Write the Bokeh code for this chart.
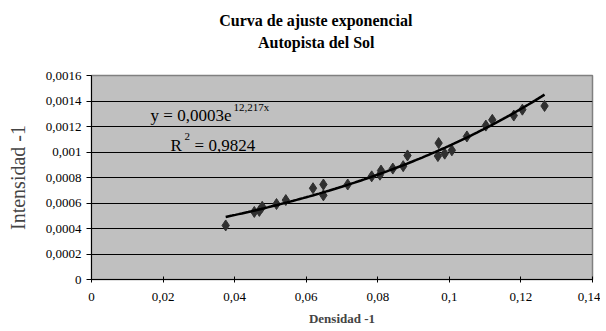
import numpy as np
from bokeh.plotting import figure
from bokeh.models import Label, Title, FixedTicker, Range1d
from bokeh.embed import file_html
from bokeh.resources import INLINE

# Data
densidad = [0.0375, 0.0455, 0.0469, 0.0477, 0.0517, 0.0543, 0.0619, 0.0648, 0.0648,
            0.0716, 0.0783, 0.0806, 0.0809, 0.0842, 0.0871, 0.0883, 0.0970, 0.0968,
            0.0987, 0.1007, 0.1049, 0.1102, 0.1120, 0.1180, 0.1204, 0.1266]
intensidad = [0.000424, 0.000530, 0.000538, 0.000570, 0.000592, 0.000623, 0.000716, 0.000745, 0.000660,
              0.000745, 0.000809, 0.000822, 0.000854, 0.000870, 0.000889, 0.000973, 0.001070, 0.000968,
              0.000987, 0.001013, 0.001122, 0.001207, 0.001252, 0.001286, 0.001332, 0.001361]

x_ticks = [0, 0.02, 0.04, 0.06, 0.08, 0.10, 0.12, 0.14]
x_tick_labels = ["0", "0,02", "0,04", "0,06", "0,08", "0,1", "0,12", "0,14"]
y_ticks = [0, 0.0002, 0.0004, 0.0006, 0.0008, 0.0010, 0.0012, 0.0014, 0.0016]
y_tick_labels = ["0", "0,0002", "0,0004", "0,0006", "0,0008", "0,001", "0,0012", "0,0014", "0,0016"]

title_1 = "Curva de ajuste exponencial"
title_2 = "Autopista del Sol"
eq_text = "y = 0,0003e"
eq_exp = "12,217x"
r2_text = "= 0,9824"

SERIF = "'Liberation Serif'"

p = figure(width=600, height=330, output_backend="svg", toolbar_location=None,
           x_range=Range1d(0, 0.14), y_range=Range1d(0, 0.0016),
           min_border_left=91, min_border_right=8, min_border_top=75, min_border_bottom=51)

# two-line title: inner line close to the frame, outer line above it
t2 = Title(text=title_2, align="right", offset=218, standoff=50,
           text_font=SERIF, text_font_size="16px", text_font_style="bold", text_color="black")
t1 = Title(text=title_1, align="right", offset=180, standoff=-44,
           text_font=SERIF, text_font_size="16px", text_font_style="bold", text_color="black")
p.add_layout(t2, "above")
p.add_layout(t1, "above")

p.background_fill_color = "#c0c0c0"
p.border_fill_color = "white"
p.outline_line_color = "#808080"
p.outline_line_width = 1.5

p.xgrid.visible = False
p.ygrid.ticker = FixedTicker(ticks=y_ticks)
p.ygrid.grid_line_color = "black"
p.ygrid.grid_line_width = 1

p.xaxis.ticker = FixedTicker(ticks=x_ticks)
p.xaxis.major_label_overrides = {t: l for t, l in zip(x_ticks, x_tick_labels)}
p.yaxis.ticker = FixedTicker(ticks=y_ticks)
p.yaxis.major_label_overrides = {t: l for t, l in zip(y_ticks, y_tick_labels)}

for ax in (p.xaxis[0], p.yaxis[0]):
    ax.axis_line_color = "black"
    ax.major_tick_line_color = "black"
    ax.minor_tick_line_color = None
    ax.major_label_text_font = SERIF
    ax.major_label_text_font_size = "13px"
    ax.major_label_text_color = "black"
    ax.axis_label_text_font = SERIF

p.xaxis.major_tick_in = 3
p.xaxis.major_tick_out = 3
p.xaxis.major_label_standoff = 10
p.yaxis.major_tick_in = 0
p.yaxis.major_tick_out = 5
p.xaxis.axis_label = "Densidad -1"
p.xaxis.axis_label_text_font_size = "13px"
p.xaxis.axis_label_text_font_style = "bold"
p.xaxis.axis_label_standoff = 7
p.yaxis.axis_label = "Intensidad -1"
p.yaxis.axis_label_text_font_size = "20px"
p.yaxis.axis_label_text_font_style = "normal"
p.yaxis.axis_label_standoff = 14

# exponential trend line fitted to the data (least squares on log y)
xd = np.array(densidad)
yd = np.array(intensidad)
b, ln_a = np.polyfit(xd, np.log(yd), 1)
xs = np.linspace(xd.min(), xd.max(), 100)
ys = np.exp(ln_a) * np.exp(b * xs)

p.scatter(densidad, intensidad, marker="diamond", size=11, color="#303030")
p.line(xs, ys, line_color="black", line_width=2.5)

p.add_layout(Label(x=0.0165, y=0.001286, text=eq_text, text_font=SERIF, text_font_size="17px",
                   text_baseline="middle", text_color="black"))
p.add_layout(Label(x=0.0397, y=0.00135, text=eq_exp, text_font=SERIF, text_font_size="11px",
                   text_baseline="middle", text_color="black"))
p.add_layout(Label(x=0.0221, y=0.00105, text="R", text_font=SERIF, text_font_size="17px",
                   text_baseline="middle", text_color="black"))
p.add_layout(Label(x=0.0260, y=0.00112, text="2", text_font=SERIF, text_font_size="11px",
                   text_baseline="middle", text_color="black"))
p.add_layout(Label(x=0.0288, y=0.00105, text=r2_text, text_font=SERIF, text_font_size="17px",
                   text_baseline="middle", text_color="black"))

open("out.html", "w").write(file_html(p, INLINE))
